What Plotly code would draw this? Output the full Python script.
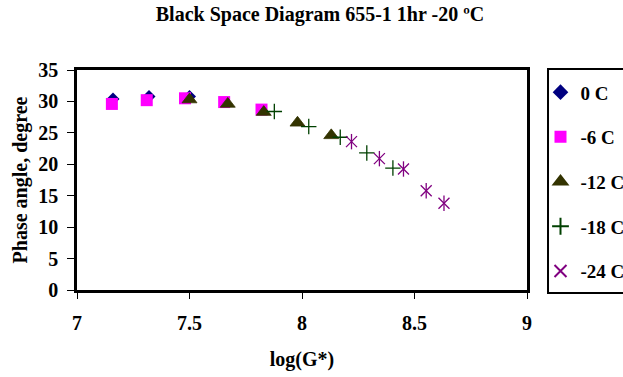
import plotly.graph_objects as go

# log(G*) and phase angle (degrees) per test temperature
x_0c = [7.16, 7.32, 7.50]
y_0c = [30.4, 30.8, 30.8]
x_m6c = [7.155, 7.31, 7.48, 7.654, 7.82]
y_m6c = [29.6, 30.2, 30.5, 29.9, 28.7]
x_m12c = [7.50, 7.67, 7.83, 7.98, 8.13]
y_m12c = [30.3, 29.6, 28.3, 26.6, 24.6]
x_m18c = [7.877, 8.03, 8.17, 8.288, 8.404]
y_m18c = [28.4, 26.0, 24.3, 21.8, 19.4]
x_m24c = [8.22, 8.344, 8.451, 8.552, 8.631]
y_m24c = [23.6, 20.9, 19.25, 15.8, 13.8]

x_ticks = [7, 7.5, 8, 8.5, 9]
y_ticks = [0, 5, 10, 15, 20, 25, 30, 35]

FONT = "Liberation Serif, Times New Roman, serif"

fig = go.Figure()


def add_series(xs, ys, name, symbol, color, size, group, width=1.2, legend=True):
    fig.add_trace(go.Scatter(
        x=xs, y=ys, mode="markers", name=name,
        legendgroup=group, showlegend=legend,
        marker=dict(symbol=symbol, color=color, size=size,
                    line=dict(color=color, width=width)),
    ))


add_series(x_0c, y_0c, "0 C", "diamond", "#000080", 10, "g1", width=0)
add_series(x_m6c, y_m6c, "-6 C", "square", "#FF00FF", 12, "g2", width=0)
add_series(x_m12c, y_m12c, "-12 C", "triangle-up", "#333300", 13, "g3", width=0.8)
add_series(x_m18c, y_m18c, "-18 C", "cross-thin-open", "#004000", 11, "g4", width=1.3)
# star marker: an X with a vertical stroke through it
add_series(x_m24c, y_m24c, "-24 C", "x-thin-open", "#800080", 11, "g5", width=1.3)
add_series(x_m24c, y_m24c, "-24 C", "line-ns-open", "#800080", 11, "g5",
           width=1.3, legend=False)

fig.update_layout(
    width=623, height=377,
    margin=dict(l=77, r=96, t=70, b=87, autoexpand=False),
    paper_bgcolor="white", plot_bgcolor="white",
    font=dict(family=FONT, size=20, color="black"),
    title=dict(text="<b>Black Space Diagram 655-1 1hr -20 ºC</b>",
               x=0.5136, xanchor="center", y=0.963, yanchor="middle",
               font=dict(family=FONT, size=20)),
    showlegend=True,
    legend=dict(
        x=1.03, xanchor="left", y=0.985, yanchor="top",
        borderwidth=0, bgcolor="rgba(0,0,0,0)",
        font=dict(family=FONT, size=19, color="black", weight="bold"),
        traceorder="grouped", tracegroupgap=17,
        itemsizing="constant", maxheight=1.0,
    ),
    # legend frame
    shapes=[dict(type="rect", xref="paper", yref="paper",
                 x0=1.0467, x1=1.3, y0=-0.0136, y1=1.0045,
                 line=dict(color="black", width=2), fillcolor="white",
                 layer="below")],
)

fig.update_xaxes(
    range=[7, 9], tickvals=x_ticks, ticktext=[f"<b>{v:g}</b>" for v in x_ticks],
    showgrid=False, zeroline=False,
    showline=True, linecolor="black", linewidth=2.5, mirror=True,
    ticks="outside", ticklen=6, tickcolor="black", tickwidth=1,
    ticklabelstandoff=7,
    tickfont=dict(family=FONT, size=20),
    title=dict(text="<b>log(G*)</b>", font=dict(family=FONT, size=20), standoff=20),
)
fig.update_yaxes(
    range=[0, 35], tickvals=y_ticks, ticktext=[f"<b>{v}</b>" for v in y_ticks],
    showgrid=False, zeroline=False,
    showline=True, linecolor="black", linewidth=2.5, mirror=True,
    ticks="outside", ticklen=7, tickcolor="black", tickwidth=1,
    ticklabelstandoff=5,
    tickfont=dict(family=FONT, size=20),
    title=dict(text="<b>Phase angle, degree</b>", font=dict(family=FONT, size=20),
               standoff=6),
)

fig.write_html("out.html")
